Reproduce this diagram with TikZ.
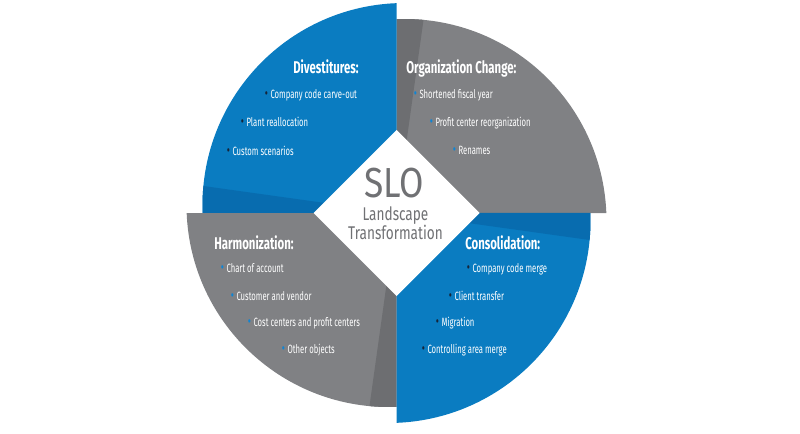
\documentclass[tikz,border=0pt]{standalone}
\usepackage{fontspec}
\setmainfont{Fira Sans}
\newfontfamily\condf{Fira Sans}[FakeStretch=0.64]
\newfontfamily\titf{Fira Sans}[FakeStretch=0.67]
\newfontfamily\diamf{Fira Sans}[FakeStretch=0.74]
\newfontfamily\slof{Fira Sans}[FakeStretch=0.84]
\definecolor{blueL}{RGB}{10,124,193}
\definecolor{blueD}{RGB}{8,108,175}
\definecolor{grayL}{RGB}{128,129,132}
\definecolor{grayD}{RGB}{109,110,113}
\definecolor{dtext}{RGB}{112,113,116}
\definecolor{navy}{RGB}{22,36,56}
\definecolor{bdot}{RGB}{14,132,212}
\newcommand\bl[1]{\textcolor{#1}{\raisebox{-0.3pt}{\scalebox{1.25}{\textbullet}}}\hspace{2pt}}
\begin{document}
\begin{tikzpicture}[x=0.75pt,y=0.75pt,
  ttl/.style={anchor=base west, inner sep=0pt, text=white, font=\titf\bfseries\fontsize{12.75pt}{14pt}\selectfont},
  itm/.style={anchor=base west, inner sep=0pt, text=white, font=\condf\fontsize{9pt}{10pt}\selectfont},
  dtx/.style={anchor=base, inner sep=0pt, text=dtext},
]
\useasboundingbox (0,0) rectangle (800,433);
\coordinate (C) at (396.5,220);
% top-right (gray)
\fill[grayL] (C) -- (606.34,220) arc[start angle=2.27,end angle=92.27,radius=151.5pt] -- cycle;
\fill[grayD] (C) -- (423.5,413.1) arc[start angle=84.6,end angle=92.27,radius=151.5pt] -- cycle;
% top-left (blue)
\fill[blueL] (C) -- (396.5,429.84) arc[start angle=92.27,end angle=182.27,radius=151.5pt] -- cycle;
\fill[blueD] (C) -- (203.4,247.0) arc[start angle=174.6,end angle=182.27,radius=151.5pt] -- cycle;
% bottom-left (gray)
\fill[grayL] (C) -- (186.66,220) arc[start angle=182.27,end angle=272.27,radius=151.5pt] -- cycle;
\fill[grayD] (C) -- (369.5,26.9) arc[start angle=264.6,end angle=272.27,radius=151.5pt] -- cycle;
% bottom-right (blue)
\fill[blueL] (C) -- (396.5,10.16) arc[start angle=272.27,end angle=362.27,radius=151.5pt] -- cycle;
\fill[blueD] (C) -- (589.6,193.0) arc[start angle=354.6,end angle=362.27,radius=151.5pt] -- cycle;
% diamond
\fill[white] (396.5,303) -- (479.5,220) -- (396.5,137) -- (313.5,220) -- cycle;
\node[dtx, font=\slof\fontsize{31.5pt}{32pt}\selectfont] (slo) at (394,236) {SLO};
\node[dtx, font=\diamf\fontsize{13.8pt}{15pt}\selectfont] (land) at (395.5,212.5) {Landscape};
\node[dtx, font=\diamf\fontsize{13.8pt}{15pt}\selectfont] (trans) at (395.5,194) {Transformation};
% Divestitures
\node[ttl] (t1) at (293,359) {Divestitures:};
\node[itm] (d1) at (264.5,334.7) {\bl{navy}Company code carve-out};
\node[itm] (d2) at (240.5,306.7) {\bl{navy}Plant reallocation};
\node[itm] (d3) at (226.5,277.7) {\bl{navy}Custom scenarios};
% Organization change
\node[ttl] (t2) at (406,359) {Organization Change:};
\node[itm] (o1) at (413.5,334.7) {\bl{bdot}Shortened fiscal year};
\node[itm] (o2) at (429.5,306.7) {\bl{bdot}Profit center reorganization};
\node[itm] (o3) at (452.5,278.7) {\bl{bdot}Renames};
% Harmonization
\node[ttl] (t3) at (214,184) {Harmonization:};
\node[itm] (h1) at (220.5,160.7) {\bl{bdot}Chart of account};
\node[itm] (h2) at (230.5,132.7) {\bl{bdot}Customer and vendor};
\node[itm] (h3) at (247.5,106.7) {\bl{bdot}Cost centers and profit centers};
\node[itm] (h4) at (281.5,79.7) {\bl{bdot}Other objects};
% Consolidation
\node[ttl] (t4) at (465,184) {Consolidation:};
\node[itm] (c1) at (466.5,160.7) {\bl{navy}Company code merge};
\node[itm] (c2) at (448.5,132.7) {\bl{navy}Client transfer};
\node[itm] (c3) at (435.5,106.7) {\bl{navy}Migration};
\node[itm] (c4) at (421.5,79.7) {\bl{navy}Controlling area merge};
\end{tikzpicture}
\end{document}
